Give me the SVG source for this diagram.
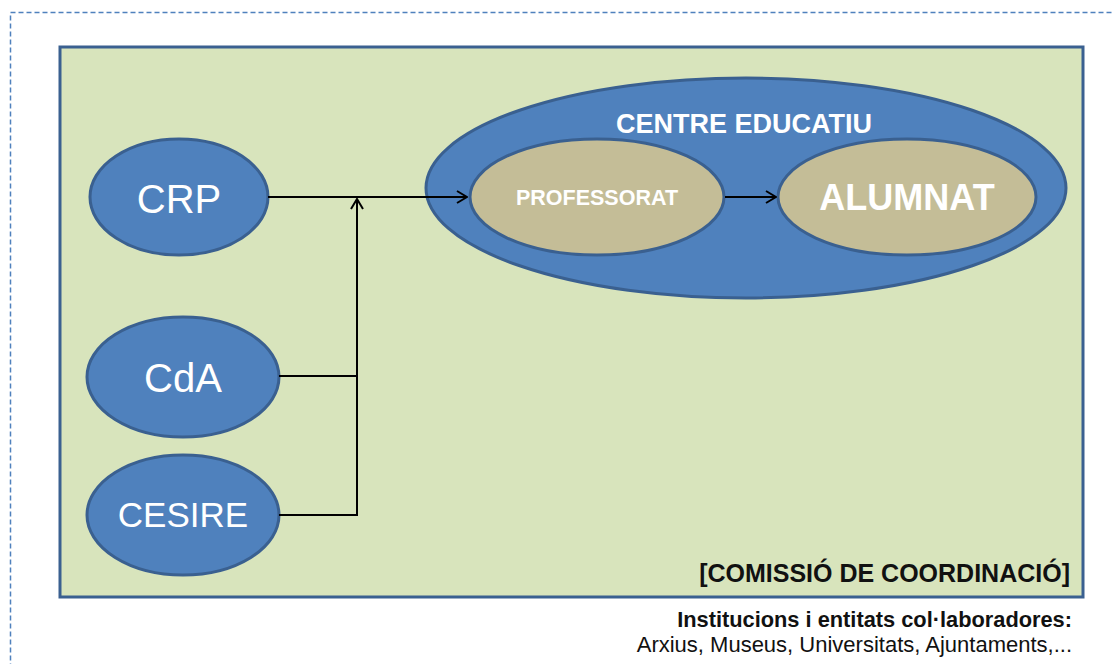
<svg xmlns="http://www.w3.org/2000/svg" width="1113" height="664" viewBox="0 0 1113 664">
<defs>
<style>
.blue{fill:#4F81BD;stroke:#3A6090;stroke-width:3}
.tan{fill:#C4BD97;stroke:#3A6090;stroke-width:3}
.wt{fill:#fff;font-family:"Liberation Sans",Arial,sans-serif;text-anchor:middle}
.b{font-weight:bold}
.conn{fill:none;stroke:#000;stroke-width:2}
.dk{font-family:"Liberation Sans",Arial,sans-serif;fill:#111;text-anchor:end}
</style>
<marker id="arr" viewBox="0 0 12 14" refX="11" refY="7" markerWidth="12" markerHeight="14" markerUnits="userSpaceOnUse" orient="auto">
<path d="M1,1 L11,7 L1,13" fill="none" stroke="#000" stroke-width="2"/>
</marker>
</defs>
<rect width="1113" height="664" fill="#fff"/>
<rect x="10.5" y="12.5" width="1120" height="700" fill="none" stroke="#4F81BD" stroke-width="1.5" stroke-dasharray="5,3"/>
<g id="comissio">
<rect x="60" y="47" width="1023" height="550" fill="#D8E4BC" stroke="#3A6090" stroke-width="3"/>
<text class="dk b" x="1070" y="582" font-size="25">[COMISSIÓ DE COORDINACIÓ]</text>
</g>
<g id="centre">
<ellipse class="blue" cx="746" cy="188" rx="320" ry="110"/>
<text class="wt b" x="744" y="133" font-size="27">CENTRE EDUCATIU</text>
</g>
<g id="professorat">
<ellipse class="tan" cx="597" cy="197" rx="127" ry="58"/>
<text class="wt b" x="597" y="205" font-size="21.5">PROFESSORAT</text>
</g>
<g id="alumnat">
<ellipse class="tan" cx="907" cy="197" rx="129" ry="58"/>
<text class="wt b" x="907" y="210" font-size="36">ALUMNAT</text>
</g>
<g id="crp">
<ellipse class="blue" cx="179" cy="197" rx="89" ry="58"/>
<text class="wt" x="179" y="213" font-size="40">CRP</text>
</g>
<g id="cda">
<ellipse class="blue" cx="183" cy="377" rx="96" ry="60"/>
<text class="wt" x="183" y="392" font-size="40">CdA</text>
</g>
<g id="cesire">
<ellipse class="blue" cx="183" cy="515" rx="96" ry="60"/>
<text class="wt" x="183" y="527" font-size="35">CESIRE</text>
</g>
<g id="connectors">
<path class="conn" d="M268,197 H467" marker-end="url(#arr)"/>
<path class="conn" d="M279,376 H357 M279,515 H357"/>
<path class="conn" d="M357,516 V199" marker-end="url(#arr)"/>
<path class="conn" d="M725,197 H776" marker-end="url(#arr)"/>
</g>
<g id="notes">
<text class="dk b" x="1072" y="627" font-size="21.8">Institucions i entitats col·laboradores:</text>
<text class="dk" x="1072" y="652" font-size="22">Arxius, Museus, Universitats, Ajuntaments,...</text>
</g>
</svg>
